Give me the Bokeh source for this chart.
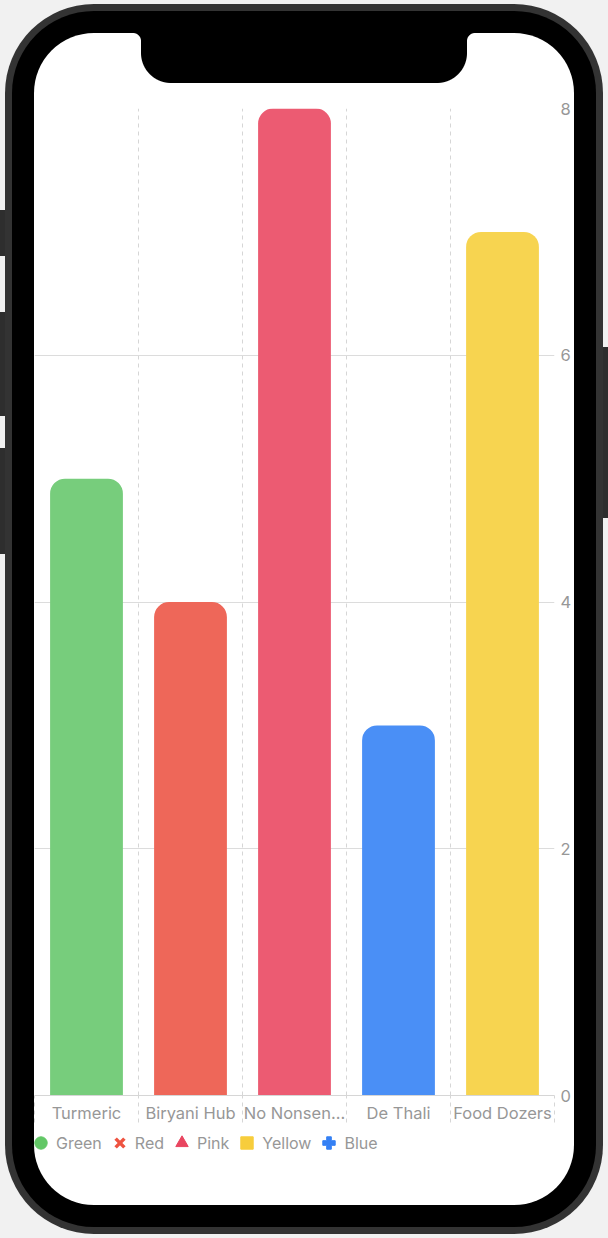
from bokeh.plotting import figure
from bokeh.layouts import column
from bokeh.models import (Range1d, FixedTicker, Legend, LegendItem,
                          ColumnDataSource, InlineStyleSheet)
from bokeh.embed import file_html
from bokeh.resources import INLINE

# ---- data ----
categories = ["Turmeric", "Biryani Hub", "No Nonsen\u2026", "De Thali", "Food Dozers"]
values = [5, 4, 8, 3, 7]
bar_colors = ["#77CD7C", "#EE6759", "#EC5B72", "#4A8FF6", "#F7D450"]
legend_labels = ["Green", "Red", "Pink", "Yellow", "Blue"]
legend_colors = ["#62C766", "#EE5340", "#E94560", "#F7CD3C", "#3580F4"]
legend_markers = ["circle", "x", "triangle", "square", "plus"]
y_ticks = [0, 2, 4, 6, 8]

FONT = "Inter"
TXT = "#979797"

xs = [i + 0.5 for i in range(len(categories))]
bounds = list(range(len(categories) + 1))

# phone look (CSS on the layout host = the phone screen)
phone_css = """
:host {
  position: relative;
  background-color: #ffffff;
  background-image:
    linear-gradient(#000, #000),
    linear-gradient(#000, #000),
    radial-gradient(circle 30px at 30px 20px, #000 29.5px, transparent 30.5px),
    radial-gradient(circle 30px at 30px 20px, #000 29.5px, transparent 30.5px),
    radial-gradient(circle 8px at 0px 8px, transparent 7.5px, #000 8.5px),
    radial-gradient(circle 8px at 8px 8px, transparent 7.5px, #000 8.5px);
  background-position: 107px 0px, 137px 0px, 107px 0px, 373px 0px, 99px 0px, 433px 0px;
  background-size: 326px 20px, 266px 50px, 60px 50px, 60px 50px, 8px 8px, 8px 8px;
  background-repeat: no-repeat;
  border-radius: 60px;
  box-shadow: 0 0 0 22px #000, 0 0 0 29px #333333, 0 0 0 900px #f1f1f1;
  overflow: visible;
}
:host::before {
  content: "";
  position: absolute;
  left: -34px; top: -33px; width: 5px; height: 1238px;
  background: linear-gradient(to bottom,
      transparent 210px, #2e2e2e 210px, #2e2e2e 256px, transparent 256px,
      transparent 312px, #2e2e2e 312px, #2e2e2e 416px, transparent 416px,
      transparent 448px, #2e2e2e 448px, #2e2e2e 554px, transparent 554px);
}
:host::after {
  content: "";
  position: absolute;
  left: 569px; top: 314px; width: 5px; height: 171px;
  background: #2e2e2e;
}
"""

SCREEN_W = 540
CHART_H = 1095
LEG_H = 77

p = figure(width=SCREEN_W, height=CHART_H, x_range=Range1d(0, len(categories)),
           y_range=Range1d(0, max(y_ticks)),
           output_backend="svg", toolbar_location=None, y_axis_location="right",
           min_border_left=0, min_border_right=18, min_border_top=75,
           min_border_bottom=33, background_fill_color=None,
           border_fill_color=None, outline_line_color=None)

# ---- bars ----
src = ColumnDataSource(dict(x=xs, top=values, color=bar_colors))
p.vbar(x="x", top="top", bottom=0, width=0.7, color="color", source=src,
       line_color=None, border_radius=(15, 15, 0, 0))

# ---- grids ----
p.ygrid.ticker = FixedTicker(ticks=y_ticks)
p.ygrid.grid_line_color = "#dcdcdc"
p.xgrid.ticker = FixedTicker(ticks=bounds)
p.xgrid.grid_line_color = "#d6d6d6"
p.xgrid.grid_line_dash = "4 4"

# ---- x axis ----
xa = p.xaxis[0]
xa.ticker = FixedTicker(ticks=xs, minor_ticks=bounds)
xa.major_label_overrides = {x: c for x, c in zip(xs, categories)}
xa.major_tick_line_color = None
xa.major_tick_out = 0
xa.major_tick_in = 0
xa.minor_tick_out = 27
xa.minor_tick_in = 0
xa.minor_tick_line_color = "#d6d6d6"
xa.minor_tick_line_dash = "4 4"
xa.axis_line_color = "#d6d6d6"
xa.major_label_standoff = -20
xa.major_label_text_font = FONT
xa.major_label_text_font_size = "16.5px"
xa.major_label_text_color = TXT

# ---- y axis ----
ya = p.yaxis[0]
ya.ticker = FixedTicker(ticks=y_ticks)
ya.axis_line_color = None
ya.major_tick_line_color = None
ya.minor_tick_line_color = None
ya.major_tick_out = 0
ya.major_tick_in = 0
ya.major_label_standoff = 6
ya.major_label_text_font = FONT
ya.major_label_text_font_size = "16.5px"
ya.major_label_text_color = TXT

# ---- legend (own strip under the chart) ----
p2 = figure(width=SCREEN_W, height=LEG_H, x_range=Range1d(0, 1), y_range=Range1d(0, 1),
            output_backend="svg", toolbar_location=None,
            x_axis_type=None, y_axis_type=None,
            min_border_left=0, min_border_right=0, min_border_top=0,
            min_border_bottom=0, background_fill_color=None,
            border_fill_color=None, outline_line_color=None)
p2.grid.visible = False

items = []
for lab, col, mk in zip(legend_labels, legend_colors, legend_markers):
    lw = 3.5 if mk == "x" else 1
    r = p2.scatter(x=[float("nan")], y=[float("nan")], marker=mk, size=12,
                   fill_color=col, line_color=col, line_width=lw)
    items.append(LegendItem(label=lab, renderers=[r]))

leg = Legend(items=items, orientation="horizontal", location=(-9, 47),
             margin=0, padding=0, spacing=2, glyph_width=31, glyph_height=31,
             label_standoff=-3, label_text_font=FONT, label_text_font_size="16px",
             label_text_color=TXT, background_fill_alpha=0, border_line_color=None)
p2.add_layout(leg, "center")

layout = column(p, p2, spacing=0, margin=(33, 0, 0, 34),
                stylesheets=[InlineStyleSheet(css=phone_css)])

open("out.html", "w").write(file_html(layout, INLINE))
